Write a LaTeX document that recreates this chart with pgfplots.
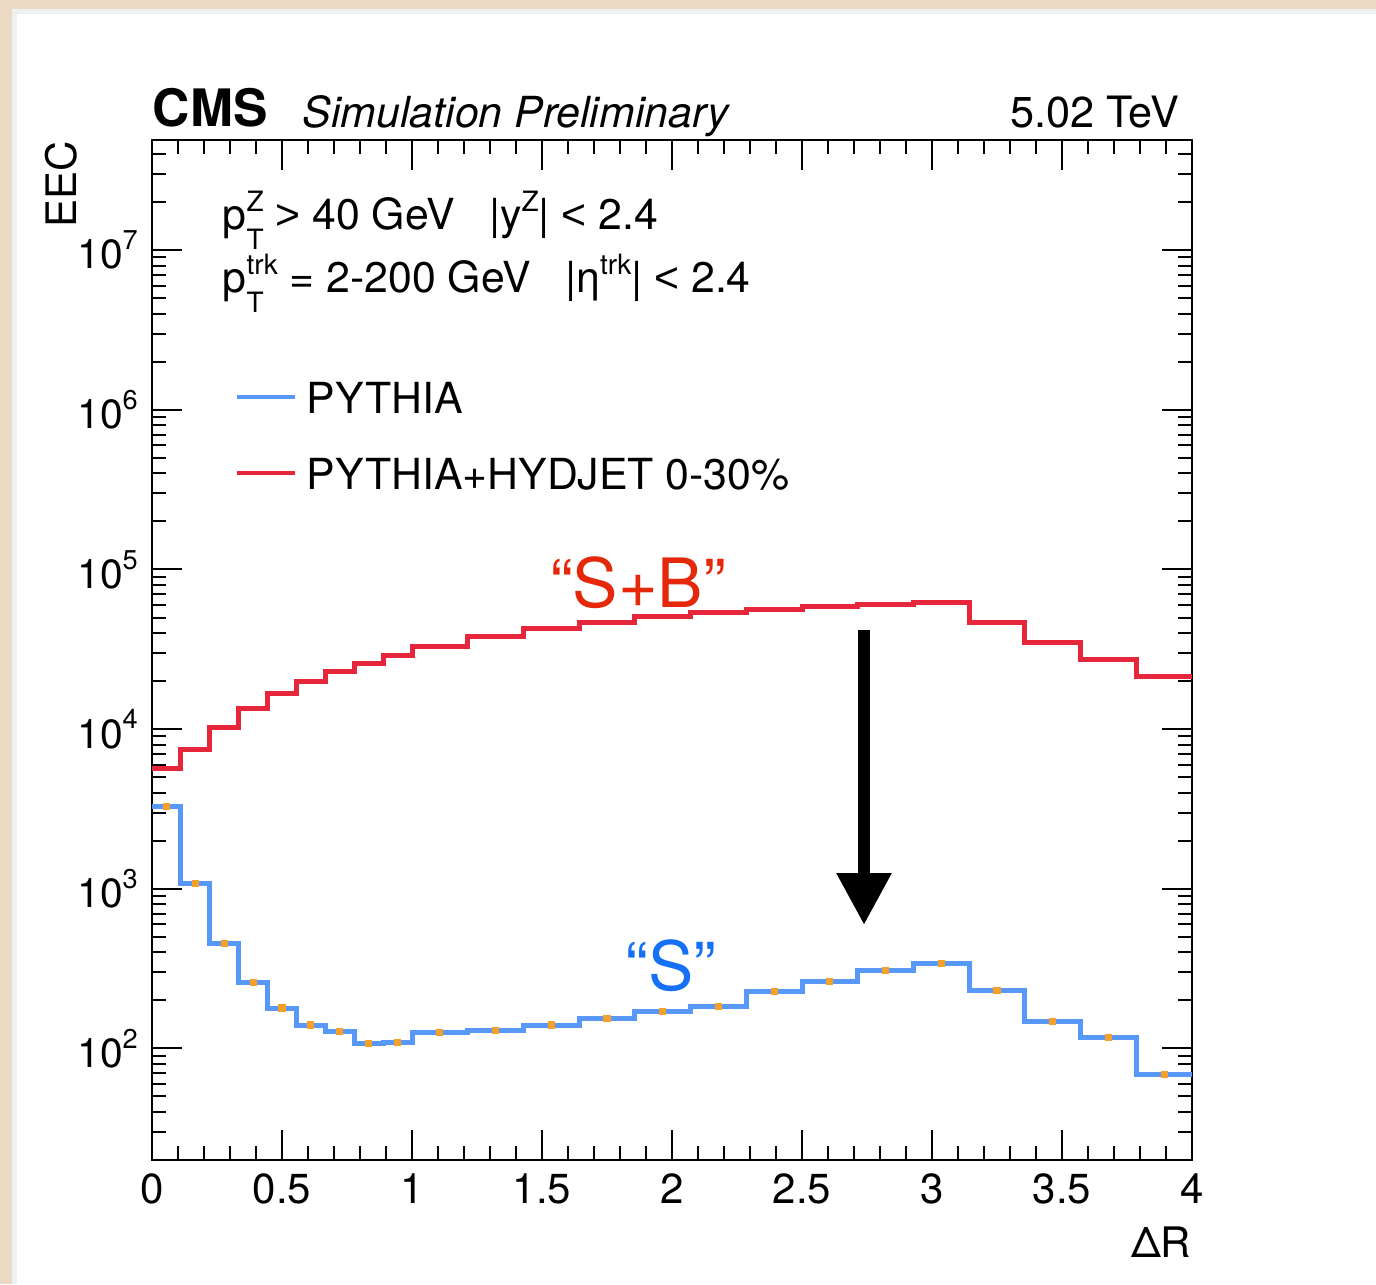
\documentclass[border=0pt]{standalone}
\usepackage{fontspec}
\setmainfont{TeX Gyre Heros}
\newfontfamily\arial{Liberation Sans}
\usepackage{pgfplots}
\pgfplotsset{compat=1.18}
\usetikzlibrary{arrows.meta}
\definecolor{rootred}{RGB}{230,38,58}
\definecolor{rootblue}{RGB}{88,152,248}
\definecolor{txtred}{RGB}{230,40,10}
\definecolor{txtblue}{RGB}{22,112,245}
\definecolor{wood}{RGB}{235,217,196}
\definecolor{edge}{RGB}{236,242,242}
\definecolor{dotorange}{RGB}{245,160,40}
\newcommand{\supsub}[2]{%
 \setbox0=\hbox{\fontsize{7}{8}\selectfont #1}%
 \setbox2=\hbox{\fontsize{7}{8}\selectfont #2}%
 \ifdim\wd0>\wd2 \dimen0=\wd0 \else\dimen0=\wd2 \fi
 \hbox to \dimen0{\rlap{\raise 4.6pt\box0}\lower 4.8pt\box2\hfil}}
\newcommand{\sups}[1]{\raise4.6pt\hbox{\fontsize{7}{8}\selectfont #1}}
\newcommand{\tp}[1]{10\raise4.8pt\hbox{\fontsize{6.8}{8}\selectfont #1}}
\begin{document}
\begin{tikzpicture}
\path[use as bounding box] (-38pt,-31pt) rectangle (306pt,290pt);
\fill[wood] (-38pt,-31pt) rectangle (306pt,290pt);
\fill[edge] (-35pt,-31pt) rectangle (306pt,287.75pt);
\fill[white] (-33.75pt,-31pt) rectangle (306pt,286.5pt);
\begin{axis}[
 at={(0pt,0pt)}, anchor=south west,
 scale only axis, width=260pt, height=255pt,
 xmin=0, xmax=4, ymode=log, ymin=20, ymax=4.9e7,
 xtick={0,0.5,1,1.5,2,2.5,3,3.5,4}, minor x tick num=4,
 ytick={1e2,1e3,1e4,1e5,1e6,1e7},
 yticklabels={\tp{2},\tp{3},\tp{4},\tp{5},\tp{6},\tp{7}},
 minor ytick={20,30,40,50,60,70,80,90,200,300,400,500,600,700,800,900,2e3,3e3,4e3,5e3,6e3,7e3,8e3,9e3,2e4,3e4,4e4,5e4,6e4,7e4,8e4,9e4,2e5,3e5,4e5,5e5,6e5,7e5,8e5,9e5,2e6,3e6,4e6,5e6,6e6,7e6,8e6,9e6,2e7,3e7,4e7},
 tick align=inside,
 major tick length=7.5pt, minor tick length=3.6pt,
 axis line style={line width=0.7pt},
 every tick/.style={line width=0.5pt, black},
 tick label style={font=\fontsize{10.5}{12}\selectfont},
 yticklabel style={font=\fontsize{10.2}{12}\selectfont},
 /pgf/number format/assume math mode=true,
 legend style={at={(0.0798,0.7108)}, anchor=west, draw=none, fill=none,
   inner sep=0pt, outer sep=0pt, row sep=10.7pt,
   font=\fontsize{10.7}{13}\selectfont,
   nodes={inner sep=0pt, text height=8.3pt, text depth=0pt}},
 legend cell align=left,
 legend image code/.code={\draw[#1,line width=1pt] (0pt,0pt) -- (14.5pt,0pt);},
]
\addplot[const plot, rootblue, line width=1.25pt] coordinates {(0,3260) (0.1111,1079) (0.2222,454) (0.3333,260) (0.4444,179) (0.5556,140) (0.6667,127) (0.7778,107) (0.8889,109) (1,126) (1.2143,129) (1.4286,140) (1.6429,154) (1.8571,171) (2.0714,184) (2.2857,228) (2.5,264) (2.7143,306) (2.9286,340) (3.1429,231) (3.3571,147) (3.5714,117) (3.7857,69) (4,69)};
\addlegendentry{\hspace{2.5pt}PYTHIA}
\addplot[const plot, rootred, line width=1.25pt] coordinates {(0,5660) (0.1111,7450) (0.2222,10190) (0.3333,13390) (0.4444,16720) (0.5556,19860) (0.6667,23040) (0.7778,25760) (0.8889,28710) (1,32730) (1.2143,37770) (1.4286,42660) (1.6429,46570) (1.8571,50450) (2.0714,53700) (2.2857,56340) (2.5,58240) (2.7143,60530) (2.9286,62100) (3.1429,46680) (3.3571,34840) (3.5714,27290) (3.7857,21430) (4,21430)};
\addlegendentry{\hspace{2.5pt}PYTHIA+HYDJET 0-30\%}
\addplot[only marks, mark=square*, mark size=0.7pt, dotorange, forget plot] coordinates {(0.0556,3260) (0.1667,1079) (0.2778,454) (0.3889,260) (0.5,179) (0.6111,140) (0.7222,127) (0.8333,107) (0.9444,109) (1.1071,126) (1.3214,129) (1.5357,140) (1.75,154) (1.9643,171) (2.1786,184) (2.3929,228) (2.6071,264) (2.8214,306) (3.0357,340) (3.25,231) (3.4643,147) (3.6786,117) (3.8929,69)};
\end{axis}
\node[anchor=base west, inner sep=0pt, font=\fontsize{12.9}{15}\selectfont\bfseries] at (0pt,258.25pt) {CMS};
\node[anchor=base west, inner sep=0pt, font=\fontsize{10.7}{13}\selectfont\itshape] at (37.5pt,258pt) {Simulation Preliminary};
\node[anchor=base east, inner sep=0pt, font=\fontsize{10.8}{13}\selectfont] at (257pt,258pt) {5.02 TeV};
\node[anchor=base west, inner sep=0pt, font=\fontsize{10.7}{13}\selectfont] at (17.5pt,232.5pt) {p\supsub{Z}{T} {\arial>} 40 GeV\hspace{5.5pt} |y\sups{Z}| {\arial<} 2.4};
\node[anchor=base west, inner sep=0pt, font=\fontsize{10.7}{13}\selectfont] at (17.5pt,216.75pt) {p\supsub{trk}{T} = 2-200 GeV\hspace{5.5pt} |η\sups{trk}| {\arial<} 2.4};
\node[rotate=90, anchor=south east, inner sep=0pt, font=\fontsize{10.5}{12}\selectfont] at (-18.5pt,255pt) {EEC};
\node[anchor=base east, inner sep=0pt, font=\fontsize{10.5}{12}\selectfont] at (260pt,-24.25pt) {ΔR};
\node[anchor=base, inner sep=0pt, font=\fontsize{17}{19}\selectfont, text=txtred] at (121.5pt,138.25pt) {“S+B”};
\node[anchor=base, inner sep=0pt, font=\fontsize{17}{19}\selectfont, text=txtblue] at (129.75pt,42.5pt) {“S”};
\draw[line width=3pt,-{Triangle[width=13pt,length=13pt]}] (178pt,132.5pt) -- (178pt,58.75pt);
\end{tikzpicture}
\end{document}
